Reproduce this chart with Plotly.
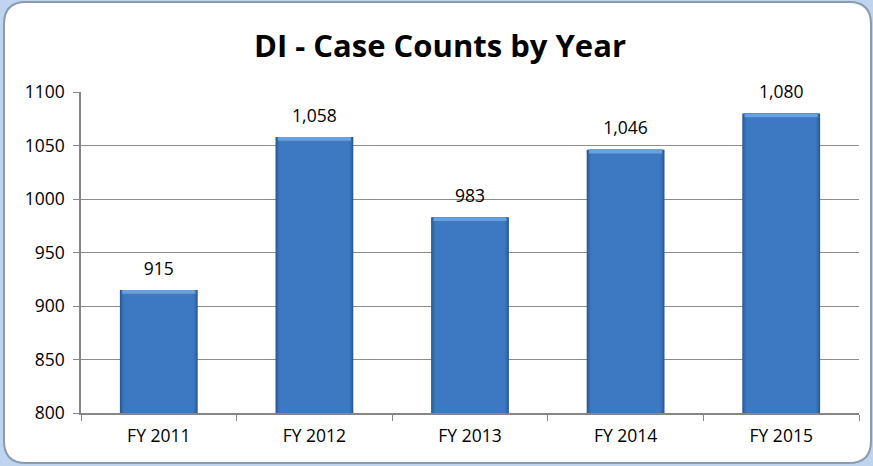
import plotly.graph_objects as go

categories = ["FY 2011", "FY 2012", "FY 2013", "FY 2014", "FY 2015"]
case_counts = [915, 1058, 983, 1046, 1080]
labels = ["915", "1,058", "983", "1,046", "1,080"]
y_ticks = [800, 850, 900, 950, 1000, 1050, 1100]

W, H = 873, 466
ML, MR, MT, MB = 81, 14, 92, 53
PW, PH = W - ML - MR, H - MT - MB

def px(x):
    return (x - ML) / PW

def py(y):
    return (H - MB - y) / PH

FONT = "Open Sans, Liberation Sans, sans-serif"

fig = go.Figure()

# layered bars to mimic the bevelled gradient look
layers = [
    (0.50, "#2B5894"),
    (0.485, "#3266A6"),
    (0.47, "#3871B7"),
    (0.45, "#3C79C2"),
]
for w, c in layers:
    fig.add_trace(go.Bar(
        x=categories, y=case_counts, width=w,
        marker=dict(color=c, line=dict(width=0)),
        hoverinfo="skip", showlegend=False,
    ))

# light top bevel band on each bar
bevel = 3.5
fig.add_trace(go.Bar(
    x=categories, y=[bevel] * len(case_counts),
    base=[v - bevel for v in case_counts], width=0.47,
    marker=dict(color="#68A0E0", line=dict(width=0)),
    hoverinfo="skip", showlegend=False,
))

# value labels above bars
fig.add_trace(go.Scatter(
    x=categories, y=case_counts, mode="markers+text",
    text=labels, textposition="top center",
    marker=dict(size=16, opacity=0),
    textfont=dict(family=FONT, size=17.5, color="#000000"),
    cliponaxis=False, hoverinfo="skip", showlegend=False,
))

# rounded panel
x0, x1, y0, y1, r = 4, 871, 2, 463, 22
path = (
    f"M {px(x0 + r)},{py(y0)} L {px(x1 - r)},{py(y0)} "
    f"Q {px(x1)},{py(y0)} {px(x1)},{py(y0 + r)} "
    f"L {px(x1)},{py(y1 - r)} Q {px(x1)},{py(y1)} {px(x1 - r)},{py(y1)} "
    f"L {px(x0 + r)},{py(y1)} Q {px(x0)},{py(y1)} {px(x0)},{py(y1 - r)} "
    f"L {px(x0)},{py(y0 + r)} Q {px(x0)},{py(y0)} {px(x0 + r)},{py(y0)} Z"
)

fig.update_layout(
    width=W, height=H,
    margin=dict(l=ML, r=MR, t=MT, b=MB),
    paper_bgcolor="#BFD4EE",
    plot_bgcolor="rgba(0,0,0,0)",
    barmode="overlay",
    shapes=[dict(type="path", xref="paper", yref="paper", path=path,
                 fillcolor="#FFFFFF", line=dict(color="#8A9BB0", width=2),
                 layer="below")],
    title=dict(text="<b>DI - Case Counts by Year</b>", x=440 / W, xanchor="center",
               y=1 - 46 / H, yanchor="middle", yref="container",
               font=dict(family=FONT, size=31, color="#000000")),
    xaxis=dict(
        showline=True, linecolor="#868686", linewidth=1.5,
        ticks="outside", tickson="boundaries", ticklen=6, tickcolor="#868686",
        tickfont=dict(family=FONT, size=17.5, color="#000000"),
        ticklabelstandoff=6,
        showgrid=False,
    ),
    yaxis=dict(
        range=[800, 1100], tickvals=y_ticks,
        showline=True, linecolor="#868686", linewidth=1.5,
        ticks="outside", ticklen=6, tickcolor="#868686",
        tickfont=dict(family=FONT, size=17.5, color="#000000"),
        ticklabelstandoff=5,
        showgrid=True, gridcolor="#8C8C8C", gridwidth=1,
        zeroline=False,
    ),
)

fig.write_html("out.html", config={"displayModeBar": False},
               post_script="document.body.style.margin='0';")
